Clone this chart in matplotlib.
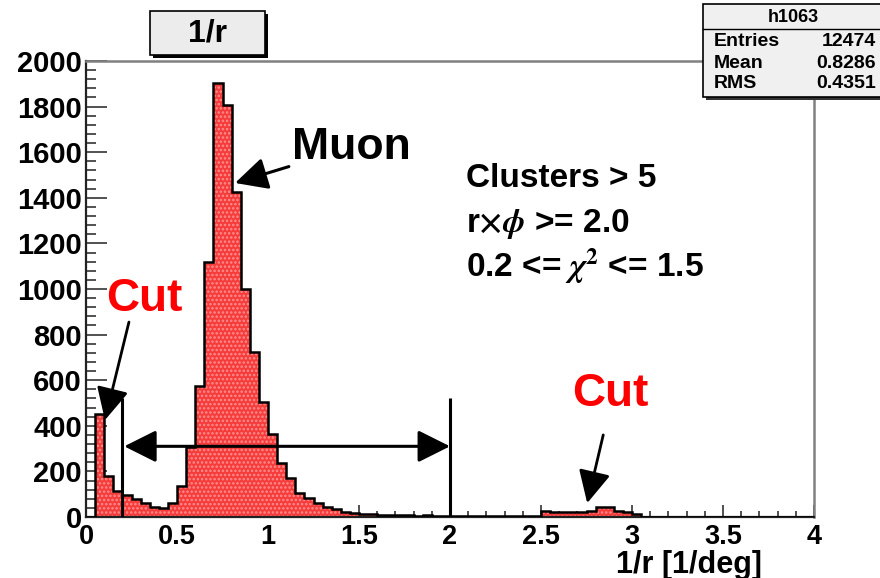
import numpy as np
import matplotlib
matplotlib.use('Agg')
from matplotlib import pyplot as plt
from matplotlib.patches import Rectangle
from matplotlib.ticker import MultipleLocator, FormatStrFormatter

# histogram h1063 : 1/r, 80 bins from 0 to 4
edges = np.linspace(0, 4, 81)
counts = [0, 450, 180, 115, 95, 80, 62, 46, 40, 62,
          135, 308, 575, 1120, 1905, 1807, 1427, 999, 725, 503,
          363, 235, 170, 104, 82, 60, 42, 34, 20, 16,
          14, 12, 10, 9, 9, 7, 6, 8, 5, 6,
          5, 4, 5, 3, 4, 6, 5, 6, 4, 5,
          26, 24, 22, 23, 22, 25, 45, 44, 26, 24,
          14, 0, 0, 0, 0, 0, 0, 0, 0, 0,
          0, 0, 0, 0, 0, 0, 0, 0, 0, 0]

stat_names = ['Entries', 'Mean', 'RMS']
stat_values = ['12474', '0.8286', '0.4351']
cut_lo, cut_hi = 0.2, 2.0
cut_texts = ['Clusters > 5', r'r$\times\phi$ >= 2.0', r'0.2 <= $\chi^2$ <= 1.5']

plt.rcParams['font.family'] = ['Liberation Sans', 'DejaVu Sans']
plt.rcParams['font.weight'] = 'bold'
plt.rcParams['mathtext.fontset'] = 'stix'
plt.rcParams['hatch.linewidth'] = 1.2

W, H = 880, 578
fig = plt.figure(figsize=(W / 100, H / 100), dpi=100)
fig.patch.set_facecolor('white')


def fx(px):  # pixel -> figure fraction
    return px / W


def fy(py):
    return 1 - py / H


ax = fig.add_axes([fx(86), fy(517), fx(814) - fx(86), fy(61) - fy(517)])

# histogram: red fill, dotted pattern, black outline
ax.stairs(counts, edges, fill=True, color='#f63b3b', lw=0, zorder=2)
ax.stairs(counts, edges, fill=True, facecolor='none', edgecolor='#ff8f8f',
          hatch='....', lw=0, zorder=2.1)
ax.stairs(counts, edges, color='black', lw=1.8, zorder=3)

ax.set_xlim(0, 4)
ax.set_ylim(0, 2000)

ax.xaxis.set_major_locator(MultipleLocator(0.5))
ax.xaxis.set_minor_locator(MultipleLocator(0.1))
ax.yaxis.set_major_locator(MultipleLocator(200))
ax.yaxis.set_minor_locator(MultipleLocator(40))
ax.xaxis.set_major_formatter(FormatStrFormatter('%g'))
ax.tick_params(axis='both', which='both', direction='in', color='#333333', width=1.2)
ax.tick_params(axis='x', which='major', length=9, pad=5, labelsize=19.5)
ax.tick_params(axis='x', which='minor', length=4.5)
ax.tick_params(axis='y', which='major', length=15, pad=3, labelsize=21)
ax.tick_params(axis='y', which='minor', length=7.5)
for lab in ax.get_xticklabels() + ax.get_yticklabels():
    lab.set_fontweight('bold')

for side in ['left', 'bottom']:
    ax.spines[side].set_color('#222222')
    ax.spines[side].set_linewidth(1.6)
for side in ['top', 'right']:
    ax.spines[side].set_color('#808080')
    ax.spines[side].set_linewidth(1.8)

ax.text(0.9286, -0.122, '1/r [1/deg]', transform=ax.transAxes, ha='right',
        va='baseline', fontsize=22, fontweight='bold')

# cut lines and the accepted range
ax.vlines([cut_lo, cut_hi], 0, 520, color='black', lw=2.2, zorder=4)
ax.annotate('', xy=(cut_lo + 0.01, 310), xytext=(cut_hi, 310),
            arrowprops=dict(arrowstyle='<|-|>,head_length=0.9,head_width=0.45',
                            mutation_scale=22, color='black', lw=2.2,
                            shrinkA=0, shrinkB=0), zorder=4)

ax.annotate('Muon', xy=(0.819, 1465), xytext=(1.13, 1620),
            fontsize=32, fontweight='bold', color='black', va='center', ha='left',
            arrowprops=dict(arrowstyle='-|>,head_length=0.9,head_width=0.45',
                            mutation_scale=22, color='black', lw=2.2,
                            shrinkA=0, shrinkB=0), zorder=5)

ax.text(0.32, 955, 'Cut', fontsize=33, fontweight='bold', color='#ff0000',
        ha='center', va='center', zorder=5)
ax.annotate('', xy=(0.104, 425), xytext=(0.236, 855),
            arrowprops=dict(arrowstyle='-|>,head_length=0.9,head_width=0.45',
                            mutation_scale=22, color='black', lw=2.0,
                            shrinkA=0, shrinkB=0), zorder=5)

ax.text(2.88, 540, 'Cut', fontsize=33, fontweight='bold', color='#ff0000',
        ha='center', va='center', zorder=5)
ax.annotate('', xy=(2.754, 61), xytext=(2.842, 360),
            arrowprops=dict(arrowstyle='-|>,head_length=0.9,head_width=0.45',
                            mutation_scale=22, color='black', lw=2.0,
                            shrinkA=0, shrinkB=0), zorder=5)

for i, s in enumerate(cut_texts):
    ax.text(2.09, 1447 - i * 198, s, fontsize=24, fontweight='bold',
            ha='left', va='baseline', zorder=5)

# title box
fig.add_artist(Rectangle((fx(153), fy(58)), fx(115), fy(11) - fy(55),
                         transform=fig.transFigure, facecolor='black',
                         edgecolor='none', zorder=5))
fig.add_artist(Rectangle((fx(150), fy(55)), fx(115), fy(11) - fy(55),
                         transform=fig.transFigure, facecolor='#ececec',
                         edgecolor='black', lw=1.2, zorder=6))
fig.text(fx(207), fy(34), '1/r', fontsize=23, fontweight='bold',
         ha='center', va='center', zorder=7)

# stats box
fig.add_artist(Rectangle((fx(706), fy(100)), fx(200), fy(7) - fy(100),
                         transform=fig.transFigure, facecolor='#333333',
                         edgecolor='none', zorder=5))
fig.add_artist(Rectangle((fx(703), fy(97)), fx(200), fy(4) - fy(97),
                         transform=fig.transFigure, facecolor='#f0f0f0',
                         edgecolor='black', lw=1.2, zorder=6))
fig.add_artist(plt.Line2D([fx(703), 1], [fy(29), fy(29)], transform=fig.transFigure,
                          color='black', lw=1.0, zorder=7))
fig.text(fx(793), fy(17), 'h1063', fontsize=13, fontweight='bold',
         ha='center', va='center', zorder=7)
for i, (n, v) in enumerate(zip(stat_names, stat_values)):
    yy = fy(42 + i * 21)
    fig.text(fx(714), yy, n, fontsize=14, fontweight='bold',
             ha='left', va='center', zorder=7)
    fig.text(fx(876), yy, v, fontsize=14, fontweight='bold',
             ha='right', va='center', zorder=7)

fig.savefig('out.png', dpi=100)
